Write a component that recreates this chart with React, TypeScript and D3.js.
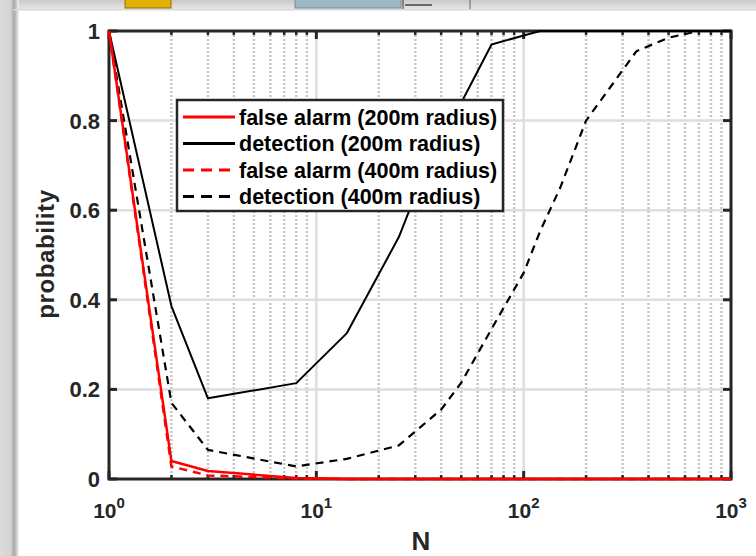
import React from 'react';
import * as d3 from 'd3';

// sample points along N (log axis)
const nValues = [1, 2, 3, 8, 14, 25, 40, 50, 70, 100, 120, 150, 200, 350, 500, 700, 1000];
const falseAlarm200 = [1, 0.04, 0.018, 0.002, 0, 0, 0, 0, 0, 0, 0, 0, 0, 0, 0, 0, 0];
const detection200 = [1, 0.386, 0.18, 0.214, 0.325, 0.54, 0.78, 0.84, 0.97, 0.99, 1, 1, 1, 1, 1, 1, 1];
const falseAlarm400 = [1, 0.028, 0.008, 0.001, 0, 0, 0, 0, 0, 0, 0, 0, 0, 0, 0, 0, 0];
const detection400 = [1, 0.17, 0.065, 0.028, 0.045, 0.075, 0.155, 0.215, 0.335, 0.46, 0.553, 0.65, 0.8, 0.955, 0.985, 1, 1];

const seriesNames = [
  'false alarm (200m radius)',
  'detection (200m radius)',
  'false alarm (400m radius)',
  'detection (400m radius)',
];
const yTicks = [0, 0.2, 0.4, 0.6, 0.8, 1];
const yTickLabels = ['0', '0.2', '0.4', '0.6', '0.8', '1'];
const xDecades = [1, 10, 100, 1000];
const xExponents = ['0', '1', '2', '3'];

const W = 756;
const H = 556;
const plot = { left: 109, right: 731, top: 31, bottom: 479 };
const ink = '#262626';
const font = '"Liberation Sans", Arial, Helvetica, sans-serif';

export default function App() {
  const x = d3.scaleLog().domain([1, 1000]).range([plot.left, plot.right]);
  const y = d3.scaleLinear().domain([0, 1]).range([plot.bottom, plot.top]);

  const line = d3.line<[number, number]>()
    .x(d => x(d[0]))
    .y(d => y(d[1]));
  const path = (vals: number[]) => line(nValues.map((n, i) => [n, vals[i]] as [number, number])) || '';

  const series = [
    { name: seriesNames[0], values: falseAlarm200, color: '#ff0000', dash: undefined, w: 2.5 },
    { name: seriesNames[1], values: detection200, color: '#000000', dash: undefined, w: 2 },
    { name: seriesNames[2], values: falseAlarm400, color: '#ff0000', dash: '8 6', w: 2.5 },
    { name: seriesNames[3], values: detection400, color: '#000000', dash: '8 6', w: 2.2 },
  ];

  // minor ticks 2..9 per decade
  const minor: number[] = [];
  for (const d of [1, 10, 100]) for (let k = 2; k <= 9; k++) minor.push(d * k);

  const drawOrder = [1, 3, 0, 2];

  return (
    <svg width={W} height={H} style={{ position: 'absolute', left: 0, top: 0 }}>
      <defs>
        <linearGradient id="leftShade" x1="0" x2="1" y1="0" y2="0">
          <stop offset="0" stopColor="#dcdcdc" />
          <stop offset="0.55" stopColor="#d4d4d4" />
          <stop offset="0.75" stopColor="#a9a9a9" />
          <stop offset="1" stopColor="#f4f4f4" />
        </linearGradient>
        <linearGradient id="topShade" x1="0" x2="0" y1="0" y2="1">
          <stop offset="0" stopColor="#c9c9c9" />
          <stop offset="1" stopColor="#e9e9e9" />
        </linearGradient>
      </defs>

      {/* window chrome */}
      <rect x={0} y={0} width={W} height={H} fill="#ffffff" />
      <rect x={0} y={0} width={W} height={10} fill="url(#topShade)" />
      <rect x={125} y={-1} width={46} height={9} fill="#e2b200" stroke="#9a6a20" strokeWidth={1} />
      <rect x={295} y={-1} width={106} height={9} fill="#9dbac4" stroke="#7a8896" strokeWidth={1} />
      <line x1={403} x2={403} y1={0} y2={9} stroke="#333" strokeWidth={1} />
      <line x1={405} x2={432} y1={5} y2={5} stroke="#444" strokeWidth={1.5} />
      <line x1={470} x2={470} y1={0} y2={9} stroke="#666" strokeWidth={1} />
      <rect x={0} y={0} width={19} height={H} fill="url(#leftShade)" />
      <rect x={13} y={9} width={W - 13} height={1.5} fill="#d8d8d8" />

      {/* grid */}
      {minor.map(v => (
        <line key={'mg' + v} x1={x(v)} x2={x(v)} y1={plot.top} y2={plot.bottom}
          stroke="#c6c6c6" strokeWidth={2.5} strokeDasharray="2 2" />
      ))}
      {xDecades.slice(1, -1).map(v => (
        <line key={'xg' + v} x1={x(v)} x2={x(v)} y1={plot.top} y2={plot.bottom}
          stroke="#dedede" strokeWidth={2.5} />
      ))}
      {yTicks.slice(1, -1).map(v => (
        <line key={'yg' + v} x1={plot.left} x2={plot.right} y1={y(v)} y2={y(v)}
          stroke="#dedede" strokeWidth={2.5} />
      ))}

      {/* axes box */}
      <rect x={plot.left} y={plot.top} width={plot.right - plot.left} height={plot.bottom - plot.top}
        fill="none" stroke={ink} strokeWidth={3} />
      {yTicks.map(v => (
        <g key={'yt' + v}>
          <line x1={plot.left} x2={plot.left + 8} y1={y(v)} y2={y(v)} stroke={ink} strokeWidth={3} />
          <line x1={plot.right} x2={plot.right - 8} y1={y(v)} y2={y(v)} stroke={ink} strokeWidth={3} />
        </g>
      ))}
      {minor.map(v => (
        <g key={'xm' + v}>
          <line x1={x(v)} x2={x(v)} y1={plot.bottom} y2={plot.bottom - 4} stroke={ink} strokeWidth={2.5} />
          <line x1={x(v)} x2={x(v)} y1={plot.top} y2={plot.top + 4} stroke={ink} strokeWidth={2.5} />
        </g>
      ))}
      {xDecades.map(v => (
        <g key={'xt' + v}>
          <line x1={x(v)} x2={x(v)} y1={plot.bottom} y2={plot.bottom - 8} stroke={ink} strokeWidth={3} />
          <line x1={x(v)} x2={x(v)} y1={plot.top} y2={plot.top + 8} stroke={ink} strokeWidth={3} />
        </g>
      ))}

      {/* data */}
      {drawOrder.map(i => (
        <path key={'s' + i} d={path(series[i].values)} fill="none" stroke={series[i].color}
          strokeWidth={series[i].w} strokeDasharray={series[i].dash} strokeLinejoin="round" />
      ))}

      {/* tick labels */}
      <g fontFamily={font} fontWeight="bold" fill={ink}>
        {yTicks.map((v, i) => (
          <text key={'yl' + v} x={plot.left - 9} y={y(v) + 8} fontSize={22} textAnchor="end">
            {yTickLabels[i]}
          </text>
        ))}
        {xDecades.map((v, i) => (
          <text key={'xl' + v} x={x(v)} y={518} fontSize={21} textAnchor="middle">
            10<tspan dy={-10} fontSize={15}>{xExponents[i]}</tspan>
          </text>
        ))}
        <text x={421} y={550} fontSize={26} textAnchor="middle">N</text>
        <text transform="translate(54,254) rotate(-90)" fontSize={24} letterSpacing={0.6}
          textAnchor="middle">probability</text>
      </g>

      {/* legend */}
      <g>
        <rect x={177} y={100} width={326} height={111} fill="#ffffff" stroke={ink} strokeWidth={2.5} />
        {series.map((s, i) => (
          <g key={'lg' + i} transform={`translate(0,${117 + i * 26.5})`}>
            <line x1={183} x2={235} y1={0} y2={0} stroke={s.color} strokeWidth={3}
              strokeDasharray={s.dash ? '11 7' : undefined} />
            <text x={239} y={7.5} fontFamily={font} fontWeight="bold" fontSize={21.5} fill="#000">{s.name}</text>
          </g>
        ))}
      </g>
    </svg>
  );
}
